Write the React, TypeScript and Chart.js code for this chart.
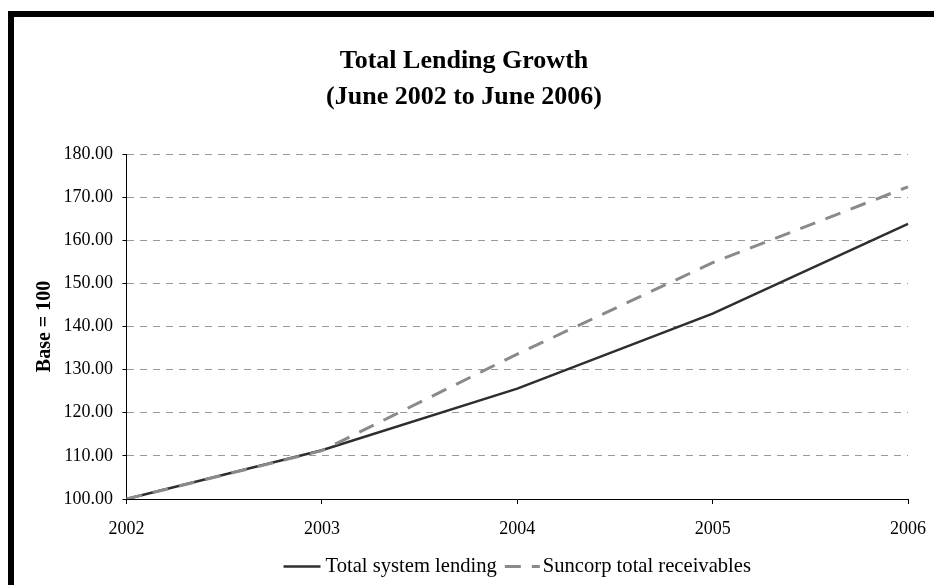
import React, { useEffect, useRef } from "react";
import { Chart, registerables } from "chart.js";

Chart.register(...registerables);

const years = ["2002", "2003", "2004", "2005", "2006"];
const totalSystemLending = [100, 111.3, 125.6, 143.0, 163.8];
const suncorpReceivables = [100, 111.2, 133.6, 154.8, 172.4];
const titleLines = ["Total Lending Growth", "(June 2002 to June 2006)"];
const yAxisTitle = "Base = 100";
const seriesNames = ["Total system lending", "Suncorp total receivables"];

const SERIF = "'Liberation Serif', 'Times New Roman', serif";

const framePlugin = {
  id: "frame",
  beforeDraw(chart: any) {
    const ctx = chart.ctx;
    ctx.save();
    ctx.fillStyle = "#ffffff";
    ctx.fillRect(0, 0, chart.width, chart.height);
    ctx.restore();
  },
  afterDraw(chart: any) {
    const ctx = chart.ctx;
    ctx.save();
    ctx.strokeStyle = "#000000";
    ctx.lineWidth = 6;
    ctx.strokeRect(11, 14, 3000, 3000);
    ctx.restore();
  },
};

// Legend drawn from the datasets' own label / colour / dash settings
const lineLegendPlugin = {
  id: "lineLegend",
  afterDraw(chart: any) {
    const ctx = chart.ctx;
    const area = chart.chartArea;
    const y = 566.5;
    const sampleW = [37, 35];
    const gapAfterSample = [5, 3];
    const gapBetween = 8;
    ctx.save();
    ctx.font = `20.6px ${SERIF}`;
    ctx.textBaseline = "middle";
    ctx.textAlign = "left";
    const ds = chart.data.datasets;
    const widths = ds.map((d: any) => ctx.measureText(d.label).width);
    let total = 0;
    ds.forEach((d: any, i: number) => {
      total += sampleW[i] + gapAfterSample[i] + widths[i];
      if (i < ds.length - 1) total += gapBetween;
    });
    let x = (area.left + area.right) / 2 - total / 2;
    ds.forEach((d: any, i: number) => {
      ctx.save();
      ctx.strokeStyle = d.borderColor;
      ctx.lineWidth = d.borderWidth;
      ctx.setLineDash(d.borderDash || []);
      ctx.beginPath();
      ctx.moveTo(x, y);
      ctx.lineTo(x + sampleW[i], y);
      ctx.stroke();
      ctx.restore();
      x += sampleW[i] + gapAfterSample[i];
      ctx.fillStyle = "#000";
      ctx.fillText(d.label, x, y);
      x += widths[i] + gapBetween;
    });
    ctx.restore();
  },
};

export default function App() {
  const ref = useRef<HTMLCanvasElement | null>(null);
  useEffect(() => {
    if (!ref.current) return;
    const chart = new Chart(ref.current, {
      type: "line",
      data: {
        labels: years,
        datasets: [
          {
            label: seriesNames[0],
            data: totalSystemLending,
            borderColor: "#2e2e2e",
            backgroundColor: "#2e2e2e",
            borderWidth: 2.5,
            pointRadius: 0,
            tension: 0,
            order: 2,
          },
          {
            label: seriesNames[1],
            data: suncorpReceivables,
            borderColor: "#8a8a8a",
            backgroundColor: "#8a8a8a",
            borderWidth: 3,
            borderDash: [16, 11],
            pointRadius: 0,
            tension: 0,
            order: 1,
          },
        ],
      },
      options: {
        responsive: false,
        animation: false,
        devicePixelRatio: 1,
        layout: { padding: { left: 20, right: 26, top: 0, bottom: 34.5 } },
        plugins: {
          title: {
            display: true,
            text: titleLines,
            color: "#000",
            font: { family: SERIF, size: 26, weight: "bold", lineHeight: 36 / 26 },
            padding: { top: 43, bottom: 39 },
          },
          legend: { display: false },
          tooltip: { enabled: false },
        },
        scales: {
          x: {
            type: "category",
            offset: false,
            afterFit: (scale: any) => {
              scale.height = 51.5;
              scale.paddingLeft = 0;
              scale.paddingRight = 0;
            },
            grid: {
              drawOnChartArea: false,
              drawTicks: true,
              tickLength: 5,
              tickColor: "#000",
              tickWidth: 1,
            },
            border: { display: true, color: "#000", width: 1 },
            ticks: {
              color: "#000",
              font: { family: SERIF, size: 18 },
              padding: 14,
              maxRotation: 0,
              autoSkip: false,
            },
          },
          y: {
            min: 100,
            max: 180,
            afterFit: (scale: any) => {
              scale.width = 106.5;
              scale.paddingTop = 0;
              scale.paddingBottom = 0;
            },
            grid: {
              color: "#999999",
              lineWidth: 1,
              drawTicks: true,
              tickLength: 4,
              tickColor: "#000",
              tickWidth: 1,
              tickBorderDash: [],
            },
            border: { display: true, color: "#000", width: 1, dash: [7, 6] },
            ticks: {
              stepSize: 10,
              color: "#000",
              font: { family: SERIF, size: 18 },
              padding: 9.5,
              callback: (v: any) => Number(v).toFixed(2),
            },
            title: {
              display: true,
              text: yAxisTitle,
              color: "#000",
              font: { family: SERIF, size: 20, weight: "bold" },
              padding: { top: 13, bottom: 0 },
            },
          },
        },
      },
      plugins: [framePlugin, lineLegendPlugin],
    } as any);
    return () => chart.destroy();
  }, []);
  return (
    <div style={{ position: "fixed", left: 0, top: 0, width: 934, height: 585 }}>
      <canvas ref={ref} width={934} height={585} style={{ display: "block", width: 934, height: 585 }} />
    </div>
  );
}
